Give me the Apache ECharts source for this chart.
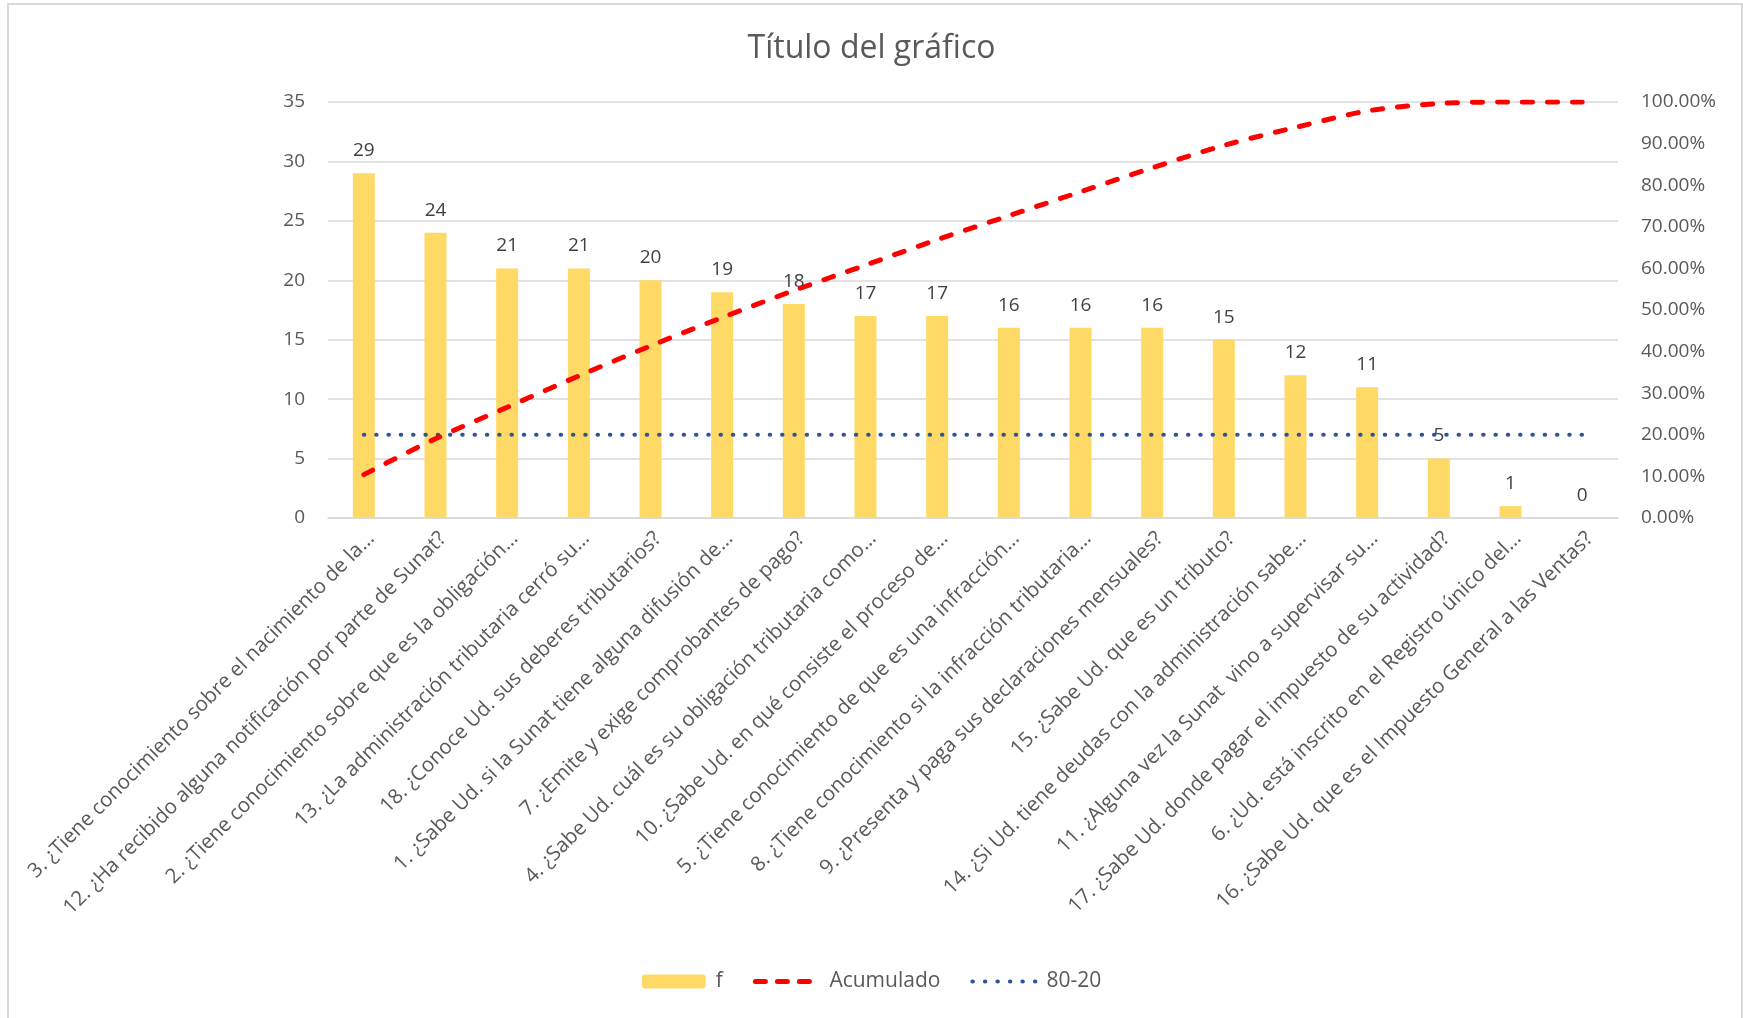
<!DOCTYPE html>
<html>
<head>
<meta charset="utf-8">
<script src="https://cdn.jsdelivr.net/npm/echarts@6/dist/echarts.min.js"></script>
<style>
  html, body { margin: 0; padding: 0; background: #ffffff; }
  #mainChart { width: 1743px; height: 1018px; }
</style>
</head>
<body>
<div id="mainChart"></div>
<script>
// preguntas (ordenadas de mayor a menor frecuencia)
var categories = [
  "3. ¿Tiene conocimiento sobre el nacimiento de la…",
  "12. ¿Ha recibido alguna notificación por parte de Sunat?",
  "2. ¿Tiene conocimiento sobre que es la obligación…",
  "13. ¿La administración tributaria cerró su…",
  "18. ¿Conoce Ud. sus deberes tributarios?",
  "1. ¿Sabe Ud. si la Sunat tiene alguna difusión de…",
  "7. ¿Emite y exige comprobantes de pago?",
  "4. ¿Sabe Ud. cuál es su obligación tributaria como…",
  "10. ¿Sabe Ud. en qué consiste el proceso de…",
  "5. ¿Tiene conocimiento de que es una infracción…",
  "8. ¿Tiene conocimiento si la infracción tributaria…",
  "9. ¿Presenta y paga sus declaraciones mensuales?",
  "15. ¿Sabe Ud. que es un tributo?",
  "14. ¿Si Ud. tiene deudas con la administración sabe…",
  "11. ¿Alguna vez la Sunat  vino a supervisar su…",
  "17. ¿Sabe Ud. donde pagar el impuesto de su actividad?",
  "6. ¿Ud. está inscrito en el Registro único del…",
  "16. ¿Sabe Ud. que es el Impuesto General a las Ventas?"
];
var frecuencia = [29, 24, 21, 21, 20, 19, 18, 17, 17, 16, 16, 16, 15, 12, 11, 5, 1, 0];
var acumulado = [0.1043, 0.1906, 0.2662, 0.3417, 0.4137, 0.4820, 0.5468, 0.6079, 0.6691,
                 0.7266, 0.7842, 0.8417, 0.8957, 0.9388, 0.9784, 0.9964, 1.0, 1.0];
var linea8020 = [0.2, 0.2, 0.2, 0.2, 0.2, 0.2, 0.2, 0.2, 0.2, 0.2, 0.2, 0.2, 0.2, 0.2, 0.2, 0.2, 0.2, 0.2];

var fuente = "'Open Sans', 'Noto Sans', sans-serif";
var sinSimbolo = { color: "rgba(0,0,0,0)", borderColor: "rgba(0,0,0,0)", borderWidth: 0 };
var myChart = echarts.init(document.getElementById("mainChart"));

var option = {
  backgroundColor: "#ffffff",
  textStyle: { fontFamily: fuente },
  animation: false,
  title: {
    text: "Título del gráfico",
    left: "center",
    top: 28,
    textStyle: { color: "#595959", fontSize: 32, fontWeight: "normal", fontFamily: fuente }
  },
  graphic: [{
    type: "rect",
    shape: { x: 8, y: 4, width: 1734, height: 1020 },
    style: { fill: "none", stroke: "#d9d9d9", lineWidth: 2 },
    silent: true
  }],
  legend: {
    bottom: 21,
    left: "center",
    itemWidth: 64,
    itemHeight: 14,
    itemGap: 30,
    textStyle: { color: "#595959", fontSize: 21, fontFamily: fuente, padding: [0, 0, 0, 5] },
    data: [
      { name: "f" },
      { name: "Acumulado", itemStyle: sinSimbolo,
        lineStyle: { color: "#FF0000", width: 5, type: [10, 12], cap: "round" } },
      { name: "80-20", itemStyle: sinSimbolo,
        lineStyle: { color: "#2F5597", width: 4, type: [0.5, 12], cap: "round" } }
    ]
  },
  grid: { left: 328, right: 125, top: 102, bottom: 500 },
  xAxis: {
    type: "category",
    data: categories,
    axisLine: { lineStyle: { color: "#d9d9d9", width: 1.5 } },
    axisTick: { show: false },
    axisLabel: {
      interval: 0,
      rotate: 45,
      margin: 10,
      verticalAlign: "top",
      color: "#595959",
      fontSize: 20.5,
      fontFamily: fuente
    }
  },
  yAxis: [
    {
      type: "value",
      min: 0,
      max: 35,
      interval: 5,
      axisLine: { show: false },
      axisTick: { show: false },
      splitLine: { lineStyle: { color: "#d9d9d9", width: 1.5 } },
      axisLabel: { color: "#595959", fontSize: 19, margin: 23, fontFamily: fuente }
    },
    {
      type: "value",
      min: 0,
      max: 1,
      interval: 0.1,
      axisLine: { show: false },
      axisTick: { show: false },
      splitLine: { show: false },
      axisLabel: {
        color: "#595959",
        fontSize: 19,
        margin: 23,
        fontFamily: fuente,
        formatter: function (v) { return (v * 100).toFixed(2) + "%"; }
      }
    }
  ],
  series: [
    {
      name: "f",
      type: "bar",
      yAxisIndex: 0,
      data: frecuencia,
      barWidth: 22,
      itemStyle: { color: "#FFD966" },
      label: {
        show: true,
        position: "top",
        distance: 13,
        color: "#404040",
        fontSize: 19,
        fontFamily: fuente
      }
    },
    {
      name: "Acumulado",
      type: "line",
      yAxisIndex: 1,
      data: acumulado,
      smooth: 0.3,
      symbol: "none",
      z: 4,
      itemStyle: { color: "#FF0000" },
      lineStyle: { color: "#FF0000", width: 5, type: [10, 15], cap: "round" }
    },
    {
      name: "80-20",
      type: "line",
      yAxisIndex: 1,
      data: linea8020,
      symbol: "none",
      z: 3,
      itemStyle: { color: "#2F5597" },
      lineStyle: { color: "#2F5597", width: 4, type: [0.5, 11.8], cap: "round" }
    }
  ]
};

myChart.setOption(option);
window.addEventListener("resize", function () {
  myChart.resize();
});
</script>
</body>
</html>
